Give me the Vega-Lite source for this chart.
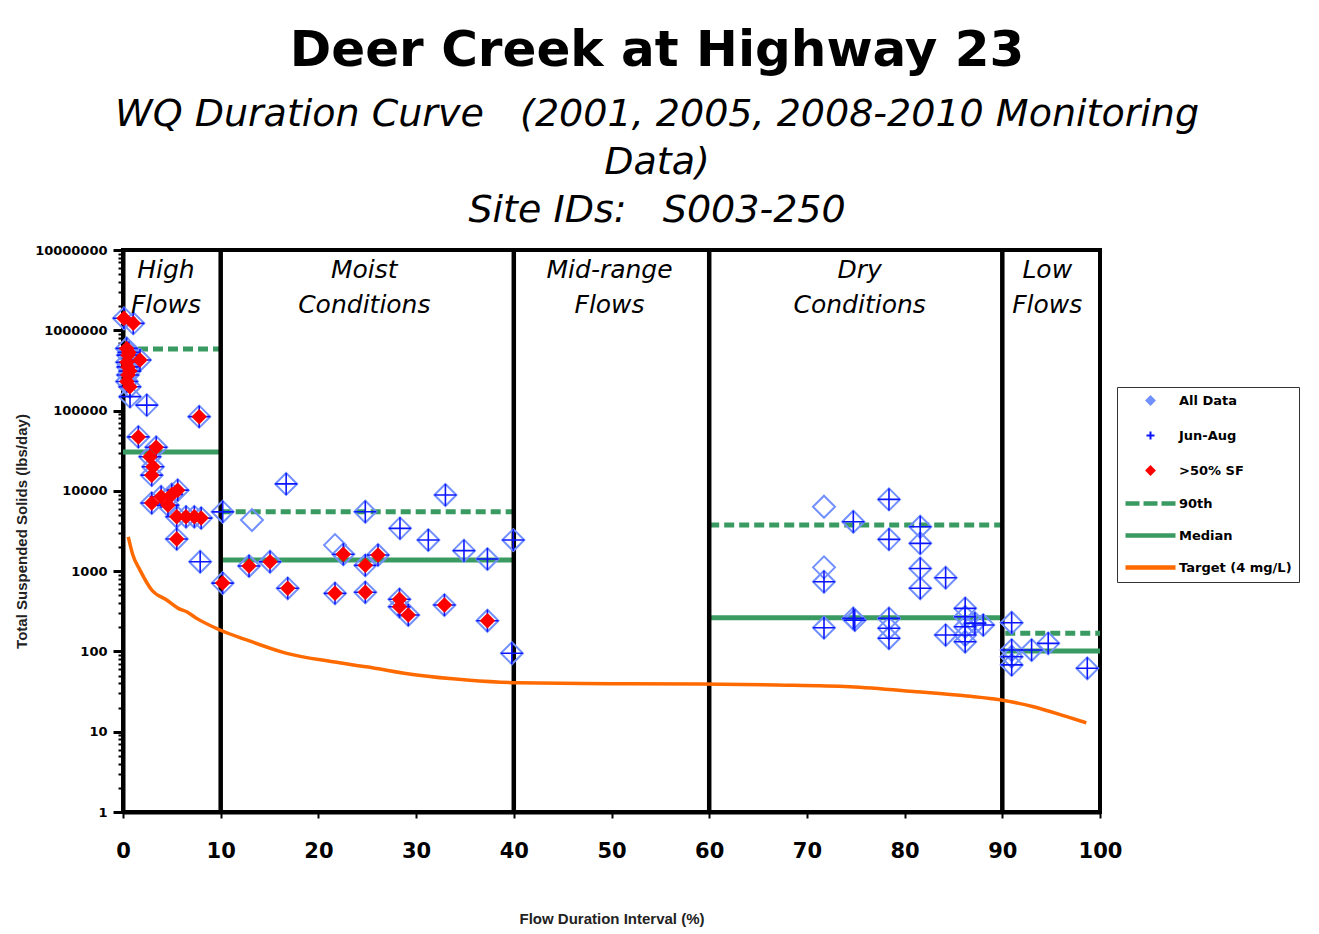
{
  "$schema": "https://vega.github.io/schema/vega-lite/v6.json",
  "width": 977,
  "height": 562,
  "autosize": {"type": "none"},
  "padding": {"left": 123, "top": 250, "right": 219, "bottom": 122},
  "background": "white",
  "title": {
    "text": "Deer Creek at Highway 23",
    "subtitle": ["WQ Duration Curve\u00a0\u00a0\u00a0(2001, 2005, 2008-2010 Monitoring", "Data)", "Site IDs:\u00a0\u00a0\u00a0S003-250"],
    "font": "DejaVu Sans", "fontSize": 50, "fontWeight": "bold", "color": "black",
    "subtitleFont": "DejaVu Sans", "subtitleFontSize": 38, "subtitleFontStyle": "italic", "subtitleColor": "black",
    "subtitleLineHeight": 48, "subtitlePadding": 20,
    "anchor": "middle", "frame": "bounds", "offset": 14
  },
  "config": {
    "view": {"stroke": "black", "strokeWidth": 4},
    "axis": {"grid": false}
  },
  "datasets": {
    "pts": [
      {"f":0.1,"v":1410000,"jun":1,"sf":1},
      {"f":1.05,"v":1220000,"jun":1,"sf":1},
      {"f":0.38,"v":595000,"jun":1,"sf":1},
      {"f":0.6,"v":530000,"jun":1,"sf":1},
      {"f":0.5,"v":490000,"jun":1,"sf":1},
      {"f":1.74,"v":426000,"jun":1,"sf":1},
      {"f":0.4,"v":400000,"jun":1,"sf":1},
      {"f":0.5,"v":350000,"jun":1,"sf":1},
      {"f":0.7,"v":310000,"jun":1,"sf":1},
      {"f":0.5,"v":277000,"jun":1,"sf":1},
      {"f":0.4,"v":230000,"jun":1,"sf":1},
      {"f":0.7,"v":198000,"jun":1,"sf":1},
      {"f":0.72,"v":149000,"jun":1,"sf":0},
      {"f":2.43,"v":117000,"jun":1,"sf":0},
      {"f":7.8,"v":84000,"jun":1,"sf":1},
      {"f":1.57,"v":47000,"jun":1,"sf":1},
      {"f":3.4,"v":35000,"jun":1,"sf":1},
      {"f":2.76,"v":26600,"jun":1,"sf":1},
      {"f":3.07,"v":20000,"jun":1,"sf":1},
      {"f":2.94,"v":15700,"jun":1,"sf":1},
      {"f":5.6,"v":10200,"jun":1,"sf":1},
      {"f":5.0,"v":9000,"jun":1,"sf":1},
      {"f":3.9,"v":8450,"jun":1,"sf":1},
      {"f":2.94,"v":7050,"jun":1,"sf":1},
      {"f":4.6,"v":6640,"jun":1,"sf":1},
      {"f":5.5,"v":4750,"jun":1,"sf":1},
      {"f":6.45,"v":4750,"jun":1,"sf":1},
      {"f":7.3,"v":4750,"jun":1,"sf":1},
      {"f":8.0,"v":4580,"jun":1,"sf":1},
      {"f":5.5,"v":2510,"jun":1,"sf":1},
      {"f":7.9,"v":1310,"jun":1,"sf":0},
      {"f":10.2,"v":5480,"jun":1,"sf":0},
      {"f":10.2,"v":710,"jun":1,"sf":1},
      {"f":13.2,"v":4330,"jun":0,"sf":0},
      {"f":16.7,"v":12200,"jun":1,"sf":0},
      {"f":24.8,"v":5490,"jun":1,"sf":0},
      {"f":33.0,"v":8870,"jun":1,"sf":0},
      {"f":28.35,"v":3410,"jun":1,"sf":0},
      {"f":31.25,"v":2440,"jun":1,"sf":0},
      {"f":34.9,"v":1800,"jun":1,"sf":0},
      {"f":37.3,"v":1415,"jun":1,"sf":0},
      {"f":39.95,"v":2440,"jun":1,"sf":0},
      {"f":21.7,"v":2110,"jun":0,"sf":0},
      {"f":22.55,"v":1620,"jun":1,"sf":1},
      {"f":24.8,"v":1180,"jun":1,"sf":1},
      {"f":26.1,"v":1590,"jun":1,"sf":1},
      {"f":12.9,"v":1160,"jun":1,"sf":1},
      {"f":15.05,"v":1310,"jun":1,"sf":1},
      {"f":16.86,"v":611,"jun":1,"sf":1},
      {"f":21.7,"v":529,"jun":1,"sf":1},
      {"f":24.8,"v":545,"jun":1,"sf":1},
      {"f":28.3,"v":446,"jun":1,"sf":1},
      {"f":28.3,"v":360,"jun":1,"sf":1},
      {"f":29.2,"v":284,"jun":1,"sf":1},
      {"f":32.9,"v":378,"jun":1,"sf":1},
      {"f":37.3,"v":241,"jun":1,"sf":1},
      {"f":39.8,"v":95,"jun":1,"sf":0},
      {"f":71.75,"v":6340,"jun":0,"sf":0},
      {"f":74.75,"v":4120,"jun":1,"sf":0},
      {"f":78.4,"v":7830,"jun":1,"sf":0},
      {"f":78.4,"v":2490,"jun":1,"sf":0},
      {"f":81.6,"v":3570,"jun":1,"sf":0},
      {"f":81.6,"v":2220,"jun":1,"sf":0},
      {"f":71.75,"v":1115,"jun":0,"sf":0},
      {"f":71.75,"v":738,"jun":1,"sf":0},
      {"f":81.6,"v":1080,"jun":1,"sf":0},
      {"f":81.6,"v":611,"jun":1,"sf":0},
      {"f":84.2,"v":828,"jun":1,"sf":0},
      {"f":71.75,"v":197,"jun":1,"sf":0},
      {"f":74.75,"v":258,"jun":1,"sf":0},
      {"f":74.9,"v":245,"jun":1,"sf":0},
      {"f":78.4,"v":258,"jun":1,"sf":0},
      {"f":78.4,"v":194,"jun":1,"sf":0},
      {"f":78.4,"v":146,"jun":1,"sf":0},
      {"f":84.2,"v":160,"jun":1,"sf":0},
      {"f":86.2,"v":344,"jun":1,"sf":0},
      {"f":86.2,"v":270,"jun":1,"sf":0},
      {"f":86.2,"v":203,"jun":1,"sf":0},
      {"f":86.2,"v":160,"jun":1,"sf":0},
      {"f":86.2,"v":132,"jun":1,"sf":0},
      {"f":88.05,"v":213,"jun":1,"sf":0},
      {"f":87.2,"v":225,"jun":1,"sf":0},
      {"f":90.96,"v":228,"jun":1,"sf":0},
      {"f":90.96,"v":104,"jun":1,"sf":0},
      {"f":90.96,"v":86,"jun":1,"sf":0},
      {"f":90.96,"v":68,"jun":1,"sf":0},
      {"f":93.0,"v":104,"jun":1,"sf":0},
      {"f":94.7,"v":126,"jun":1,"sf":0},
      {"f":98.7,"v":61.6,"jun":1,"sf":0}
    ],
    "target": [
      {"f":0.54,"v":2680},{"f":1.0,"v":1600},{"f":1.74,"v":1030},{"f":2.94,"v":582},
      {"f":4.47,"v":437},{"f":5.66,"v":344},{"f":6.52,"v":312},{"f":7.54,"v":258},
      {"f":9.93,"v":185},{"f":12.66,"v":139},{"f":16.76,"v":94.6},{"f":21.5,"v":74.3},
      {"f":24.9,"v":64.4},{"f":30.06,"v":50.8},{"f":35.2,"v":44},{"f":40.3,"v":40.7},
      {"f":50,"v":39.7},{"f":59.06,"v":39.3},{"f":66.9,"v":38.2},{"f":74.4,"v":36.3},
      {"f":81.2,"v":31.5},{"f":86.4,"v":27.8},{"f":89.9,"v":24.8},{"f":93.2,"v":20.5},
      {"f":96.6,"v":15.4},{"f":98.6,"v":12.9}
    ],
    "thr": [
      {"f":0,"f2":10,"v":583000,"stat":"90th"},
      {"f":10,"f2":40,"v":5490,"stat":"90th"},
      {"f":60,"f2":90,"v":3750,"stat":"90th"},
      {"f":90.3,"f2":100,"v":168,"stat":"90th"},
      {"f":0,"f2":10,"v":30400,"stat":"Median"},
      {"f":10,"f2":40,"v":1375,"stat":"Median"},
      {"f":60,"f2":90,"v":263,"stat":"Median"},
      {"f":90,"f2":100,"v":101,"stat":"Median"}
    ],
    "seps": [{"f":10},{"f":40},{"f":60},{"f":90}],
    "regions": [
      {"f":4.4,"v":7900000,"label":"High\nFlows"},
      {"f":24.7,"v":7900000,"label":"Moist\nConditions"},
      {"f":49.8,"v":7900000,"label":"Mid-range\nFlows"},
      {"f":75.4,"v":7900000,"label":"Dry\nConditions"},
      {"f":94.6,"v":7900000,"label":"Low\nFlows"}
    ]
  },
  "layer": [
    {
      "data": {"name": "thr"},
      "transform": [{"filter": "datum.stat == 'Median'"}],
      "mark": {"type": "rule", "color": "#3a9b62", "strokeWidth": 5},
      "encoding": {
        "x": {"field": "f", "type": "quantitative",
          "scale": {"domain": [0, 100], "nice": false, "zero": false},
          "axis": {"values": [0,10,20,30,40,50,60,70,80,90,100], "domainColor": "black", "domainWidth": 4,
            "tickColor": "black", "tickWidth": 2, "tickSize": 6,
            "labelFont": "DejaVu Sans", "labelFontSize": 21, "labelFontWeight": "bold", "labelColor": "black",
            "labelPadding": 22, "labelFlush": false, "labelOverlap": false,
            "titleFont": "Liberation Sans", "titleFontSize": 15, "titleFontWeight": "bold", "titleColor": "#222", "titlePadding": 50},
          "title": "Flow Duration Interval (%)"},
        "x2": {"field": "f2"},
        "y": {"field": "v", "type": "quantitative",
          "scale": {"type": "log", "domain": [1, 10000000], "nice": false},
          "axis": {"values": [1,2,3,4,5,6,7,8,9,10,20,30,40,50,60,70,80,90,100,200,300,400,500,600,700,800,900,1000,2000,3000,4000,5000,6000,7000,8000,9000,10000,20000,30000,40000,50000,60000,70000,80000,90000,100000,200000,300000,400000,500000,600000,700000,800000,900000,1000000,2000000,3000000,4000000,5000000,6000000,7000000,8000000,9000000,10000000],
            "format": "d",
            "labelExpr": "abs(log(datum.value)/LN10 - round(log(datum.value)/LN10)) < 0.000001 ? datum.label : ''",
            "domainColor": "black", "domainWidth": 4, "tickColor": "black",
            "tickSize": {"condition": {"test": "abs(log(datum.value)/LN10 - round(log(datum.value)/LN10)) < 0.000001", "value": 10}, "value": 5},
            "tickWidth": {"condition": {"test": "abs(log(datum.value)/LN10 - round(log(datum.value)/LN10)) < 0.000001", "value": 3}, "value": 2},
            "labelFont": "DejaVu Sans", "labelFontSize": 13, "labelFontWeight": "bold", "labelColor": "black",
            "labelPadding": 6, "labelOverlap": false, "labelFlush": false,
            "titleFont": "Liberation Sans", "titleFontSize": 15, "titleFontWeight": "bold", "titleColor": "#222", "titlePadding": 5},
          "title": "Total Suspended Solids (lbs/day)"}
      }
    },
    {
      "data": {"name": "thr"},
      "transform": [{"filter": "datum.stat == '90th'"}],
      "mark": {"type": "rule", "color": "#3a9b62", "strokeWidth": 5, "strokeDash": [10, 5]},
      "encoding": {
        "x": {"field": "f", "type": "quantitative", "title": "Flow Duration Interval (%)"},
        "x2": {"field": "f2"},
        "y": {"field": "v", "type": "quantitative", "title": "Total Suspended Solids (lbs/day)"}
      }
    },
    {
      "data": {"name": "seps"},
      "mark": {"type": "rule", "color": "black", "strokeWidth": 4.5},
      "encoding": {
        "x": {"field": "f", "type": "quantitative", "title": "Flow Duration Interval (%)"}
      }
    },
    {
      "data": {"name": "target"},
      "mark": {"type": "line", "color": "#ff6a00", "strokeWidth": 3.5, "interpolate": "monotone"},
      "encoding": {
        "x": {"field": "f", "type": "quantitative", "title": "Flow Duration Interval (%)"},
        "y": {"field": "v", "type": "quantitative", "title": "Total Suspended Solids (lbs/day)"}
      }
    },
    {
      "data": {"name": "pts"},
      "mark": {"type": "point", "filled": false, "size": 484, "strokeWidth": 2, "opacity": 1},
      "encoding": {
        "x": {"field": "f", "type": "quantitative", "title": "Flow Duration Interval (%)"},
        "y": {"field": "v", "type": "quantitative", "title": "Total Suspended Solids (lbs/day)"},
        "color": {"datum": "All Data",
          "scale": {"domain": ["All Data", "Jun-Aug", ">50% SF", "90th", "Median", "Target (4 mg/L)"],
                    "range": ["#7390ff", "#0a14ff", "#ff0000", "#3a9b62", "#3a9b62", "#ff6a00"]},
          "legend": {"title": null, "orient": "none", "legendX": 994, "legendY": 137,
            "strokeColor": "#333", "fillColor": "white", "padding": 7,
            "labelFont": "DejaVu Sans", "labelFontSize": 13, "labelFontWeight": "bold", "labelColor": "black",
            "symbolSize": 64, "symbolStrokeWidth": 2, "rowPadding": 18, "symbolOffset": 20, "labelOffset": 22}},
        "shape": {"datum": "All Data",
          "scale": {"domain": ["All Data", "Jun-Aug", ">50% SF", "90th", "Median", "Target (4 mg/L)"],
                    "range": ["diamond", "M-1,0L1,0M0,-1L0,1", "diamond",
                              "M-6,-0.3L-3,-0.3L-3,0.3L-6,0.3Z M-1.5,-0.3L1.5,-0.3L1.5,0.3L-1.5,0.3Z M3,-0.3L6,-0.3L6,0.3L3,0.3Z",
                              "M-6,-0.3L6,-0.3L6,0.3L-6,0.3Z", "M-6,-0.3L6,-0.3L6,0.3L-6,0.3Z"]},
          "legend": {"title": null, "orient": "none", "legendX": 994, "legendY": 137,
            "strokeColor": "#333", "fillColor": "white", "padding": 7,
            "labelFont": "DejaVu Sans", "labelFontSize": 13, "labelFontWeight": "bold", "labelColor": "black",
            "symbolSize": 64, "symbolStrokeWidth": 2, "rowPadding": 18, "symbolOffset": 20, "labelOffset": 22}}
      }
    },
    {
      "data": {"name": "pts"},
      "transform": [{"filter": "datum.jun == 1"}],
      "mark": {"type": "point", "filled": false, "size": 484, "strokeWidth": 1.6, "opacity": 1},
      "encoding": {
        "x": {"field": "f", "type": "quantitative", "title": "Flow Duration Interval (%)"},
        "y": {"field": "v", "type": "quantitative", "title": "Total Suspended Solids (lbs/day)"},
        "color": {"datum": "Jun-Aug"},
        "shape": {"datum": "Jun-Aug"}
      }
    },
    {
      "data": {"name": "pts"},
      "transform": [{"filter": "datum.sf == 1"}],
      "mark": {"type": "point", "filled": true, "size": 240, "strokeWidth": 0, "opacity": 1},
      "encoding": {
        "x": {"field": "f", "type": "quantitative", "title": "Flow Duration Interval (%)"},
        "y": {"field": "v", "type": "quantitative", "title": "Total Suspended Solids (lbs/day)"},
        "color": {"datum": ">50% SF"},
        "shape": {"datum": ">50% SF"}
      }
    },
    {
      "data": {"name": "regions"},
      "mark": {"type": "text", "align": "center", "baseline": "top", "font": "DejaVu Sans", "fontStyle": "italic",
               "fontSize": 25, "lineHeight": 35, "lineBreak": "\n", "color": "black"},
      "encoding": {
        "x": {"field": "f", "type": "quantitative", "title": "Flow Duration Interval (%)"},
        "y": {"field": "v", "type": "quantitative", "title": "Total Suspended Solids (lbs/day)"},
        "text": {"field": "label"}
      }
    }
  ]
}
